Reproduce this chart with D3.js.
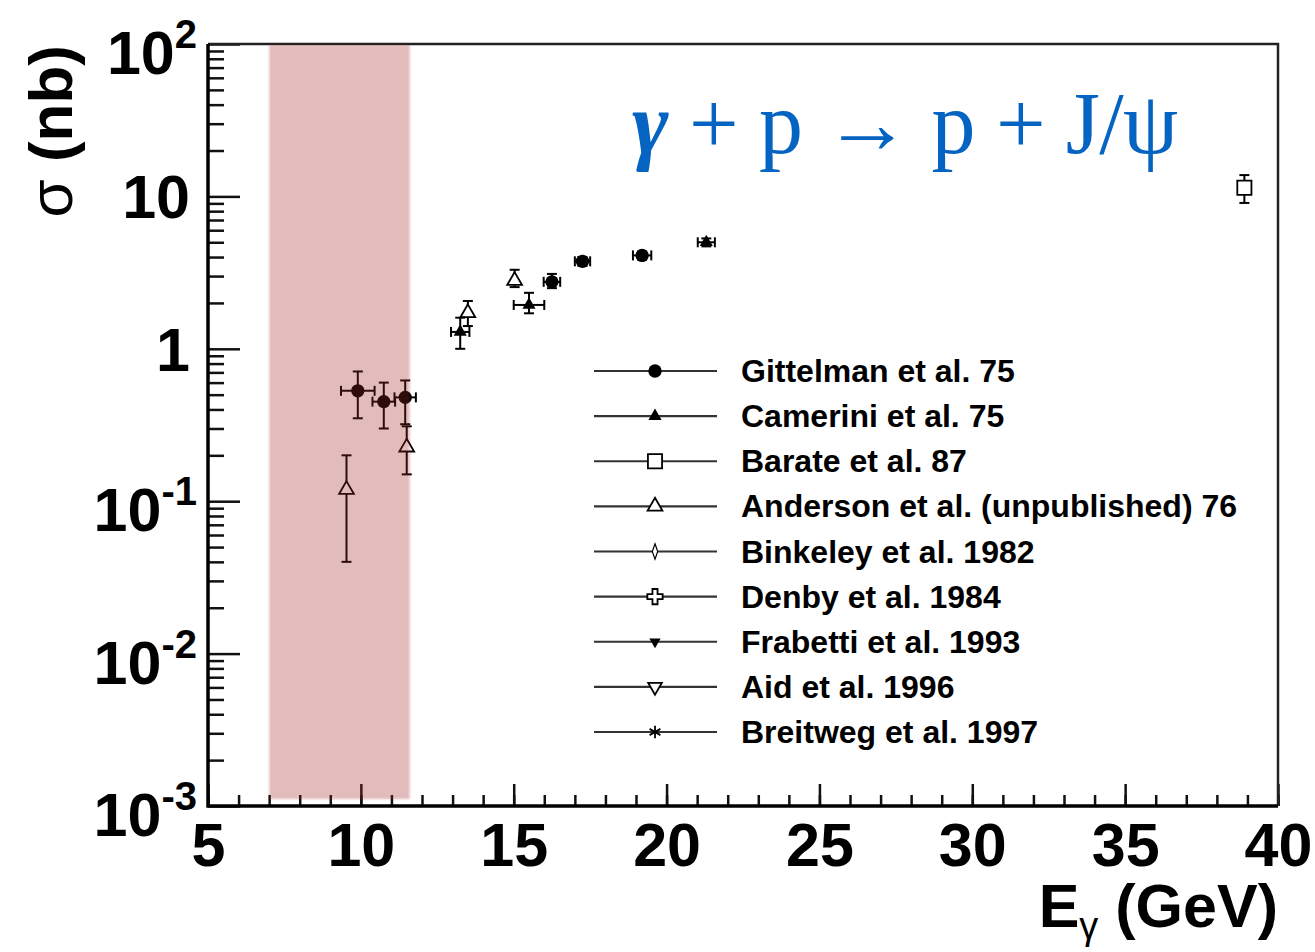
<!DOCTYPE html>
<html>
<head>
<meta charset="utf-8">
<script src="https://cdn.jsdelivr.net/npm/d3@7"></script>
<style>
  body { margin: 0; background: #fff; }
  text { font-family: "Liberation Sans", Arial, sans-serif; }
</style>
</head>
<body>
<div id="container"></div>
<script>
/* ---------------- DATA ---------------- */
const gittelmanE     = [9.9, 10.75, 11.45, 16.25, 17.25, 19.2];
const gittelmanSigma = [0.53, 0.45, 0.48, 2.75, 3.75, 4.1];
const gittelmanLow   = [0.35, 0.30, 0.32, 2.5, 3.5, 3.85];
const gittelmanHigh  = [0.71, 0.60, 0.62, 3.1, 4.0, 4.35];
const gittelmanEErr  = [0.55, 0.37, 0.35, 0.27, 0.25, 0.3];

const cameriniE     = [13.25, 15.5, 21.3];
const cameriniSigma = [1.29, 1.94, 5.0];
const cameriniLow   = [1.0, 1.71, 4.7];
const cameriniHigh  = [1.6, 2.33, 5.3];
const cameriniEErr  = [0.3, 0.5, 0.28];

const barateE     = [38.9];
const barateSigma = [11.4];
const barateLow   = [9.06];
const barateHigh  = [13.8];

const andersonE     = [9.53, 11.5, 13.5, 15.03];
const andersonSigma = [0.119, 0.226, 1.72, 2.8];
const andersonLow   = [0.04, 0.15, 1.41, 2.54];
const andersonHigh  = [0.2, 0.31, 2.06, 3.3];

const legendLabels = [
  "Gittelman et al. 75",
  "Camerini et al. 75",
  "Barate et al. 87",
  "Anderson et al. (unpublished) 76",
  "Binkeley et al. 1982",
  "Denby et al. 1984",
  "Frabetti et al. 1993",
  "Aid et al. 1996",
  "Breitweg et al. 1997"
];
const legendMarkers = ["circle", "triangle", "square", "otriangle", "diamond", "ocross", "itriangle", "oitriangle", "asterisk"];

const xMajorTicks = [5, 10, 15, 20, 25, 30, 35, 40];
const yDecades = [-3, -2, -1, 0, 1, 2];
const bandRange = [7, 11.6];

/* ---------------- SETUP ---------------- */
const W = 1315, H = 952;
const L = 208, R = 1278, T = 44, B = 806;

const svg = d3.select("#container").append("svg")
  .attr("width", W)
  .attr("height", H);

const x = d3.scaleLinear().domain([5, 40]).range([L, R]);
const y = d3.scaleLog().domain([1e-3, 1e2]).range([B, T]);

/* ---------------- MARKERS ---------------- */
function marker(g, type, cx, cy) {
  const sym = {
    circle:     [d3.symbolCircle, 140, "#000", "none", 0],
    triangle:   [d3.symbolTriangle, 75, "#000", "none", 0],
    square:     [d3.symbolSquare, 200, "#fff", "#000", 0],
    otriangle:  [d3.symbolTriangle, 95, "#fff", "#000", 0],
    diamond:    [d3.symbolDiamond, 70, "#fff", "#000", 0],
    ocross:     [d3.symbolCross, 130, "#fff", "#000", 0],
    itriangle:  [d3.symbolTriangle, 55, "#000", "none", 180],
    oitriangle: [d3.symbolTriangle, 80, "#fff", "#000", 180],
    asterisk:   [d3.symbolAsterisk, 110, "none", "#000", 0]
  }[type];
  const sx = type === "diamond" ? 0.6 : 1;
  g.append("path")
    .attr("d", d3.symbol(sym[0], sym[1])())
    .attr("transform", `translate(${cx},${cy}) rotate(${sym[4]}) scale(${sx},1)`)
    .attr("fill", sym[2])
    .attr("stroke", sym[3])
    .attr("stroke-width", 1.8);
}

function errorBars(g, e, s, lo, hi, ex) {
  const cap = 5;
  g.append("line").attr("x1", x(e)).attr("x2", x(e)).attr("y1", y(lo)).attr("y2", y(hi));
  g.append("line").attr("x1", x(e) - cap).attr("x2", x(e) + cap).attr("y1", y(lo)).attr("y2", y(lo));
  g.append("line").attr("x1", x(e) - cap).attr("x2", x(e) + cap).attr("y1", y(hi)).attr("y2", y(hi));
  if (ex) {
    g.append("line").attr("x1", x(e - ex)).attr("x2", x(e + ex)).attr("y1", y(s)).attr("y2", y(s));
    g.append("line").attr("x1", x(e - ex)).attr("x2", x(e - ex)).attr("y1", y(s) - cap).attr("y2", y(s) + cap);
    g.append("line").attr("x1", x(e + ex)).attr("x2", x(e + ex)).attr("y1", y(s) - cap).attr("y2", y(s) + cap);
  }
}

function series(E, S, LO, HI, EX, type) {
  const g = svg.append("g").attr("stroke", "#000").attr("stroke-width", 2);
  E.forEach((e, i) => {
    errorBars(g, e, S[i], LO[i], HI[i], EX ? EX[i] : 0);
    marker(g, type, x(e), y(S[i]));
  });
}

/* ---------------- POINTS ---------------- */
series(andersonE, andersonSigma, andersonLow, andersonHigh, null, "otriangle");
series(cameriniE, cameriniSigma, cameriniLow, cameriniHigh, cameriniEErr, "triangle");
series(gittelmanE, gittelmanSigma, gittelmanLow, gittelmanHigh, gittelmanEErr, "circle");
series(barateE, barateSigma, barateLow, barateHigh, null, "square");

/* ---------------- AXES ---------------- */
svg.append("g")
  .attr("transform", `translate(0,${B})`)
  .call(d3.axisBottom(x).tickValues(d3.range(5, 41)).tickSize(-11).tickFormat(""));
const xMajor = svg.append("g")
  .attr("transform", `translate(0,${B})`)
  .call(d3.axisBottom(x).tickValues(xMajorTicks).tickSize(-22).tickPadding(17).tickFormat(d3.format("d")));
xMajor.selectAll("text")
  .attr("font-size", 61).attr("font-weight", "bold").attr("fill", "#000")
  .style("font-family", "'Liberation Sans', Arial, sans-serif");

const yMinorVals = [];
yDecades.slice(0, -1).forEach(p => {
  for (let k = 2; k <= 9; k++) yMinorVals.push(k * Math.pow(10, p));
});
svg.append("g")
  .attr("transform", `translate(${L},0)`)
  .call(d3.axisLeft(y).tickValues(yMinorVals).tickSize(-16).tickFormat(""));
svg.append("g")
  .attr("transform", `translate(${L},0)`)
  .call(d3.axisLeft(y).tickValues(yDecades.map(p => Math.pow(10, p))).tickSize(-32).tickFormat(""));

svg.selectAll(".tick line").attr("stroke", "#111").attr("stroke-width", 2.5);
svg.selectAll(".domain").attr("stroke", "none");

// y tick labels with exponents
yDecades.forEach(p => {
  const ty = y(Math.pow(10, p));
  if (p === 0 || p === 1) {
    svg.append("text")
      .attr("x", 190).attr("y", ty + 22)
      .attr("text-anchor", "end")
      .attr("font-size", 61).attr("font-weight", "bold")
      .text(p === 0 ? "1" : "10");
  } else {
    const t = svg.append("text")
      .attr("x", 197).attr("y", ty + 30)
      .attr("text-anchor", "end")
      .attr("font-weight", "bold");
    t.append("tspan").attr("font-size", 61).text("10");
    t.append("tspan").attr("font-size", 40).attr("dy", -26).text(p);
  }
});

// frame
svg.append("path")
  .attr("d", `M${L},${T}H${R}V${B}`)
  .attr("fill", "none").attr("stroke", "#222").attr("stroke-width", 2.5);
svg.append("path")
  .attr("d", `M${L},${T}V${B}H${R}`)
  .attr("fill", "none").attr("stroke", "#000").attr("stroke-width", 3.5);

/* ---------------- BAND ---------------- */
const defs = svg.append("defs");
defs.append("filter").attr("id", "soft")
  .append("feGaussianBlur").attr("stdDeviation", 1.2);
svg.append("rect")
  .attr("x", x(bandRange[0]))
  .attr("y", T + 1)
  .attr("width", x(bandRange[1]) - x(bandRange[0]))
  .attr("height", 799 - T - 1)
  .attr("fill", "rgb(160,40,40)")
  .attr("opacity", 0.3)
  .attr("filter", "url(#soft)");

/* ---------------- LEGEND ---------------- */
const ly = d3.scalePoint().domain(legendLabels).range([371, 732]);
const lg = svg.append("g");
legendLabels.forEach((lab, i) => {
  const yy = ly(lab);
  lg.append("line")
    .attr("x1", 594).attr("x2", 717).attr("y1", yy).attr("y2", yy)
    .attr("stroke", "#333").attr("stroke-width", 2.2);
  marker(lg, legendMarkers[i], 655, yy);
  lg.append("text")
    .attr("x", 741).attr("y", yy + 11)
    .attr("font-size", 32).attr("font-weight", "bold")
    .text(lab);
});

/* ---------------- TITLES ---------------- */
const title = svg.append("text")
  .attr("x", 632).attr("y", 153)
  .attr("fill", "#0563c1")
  .attr("font-size", 88)
  .attr("textLength", 546)
  .attr("lengthAdjust", "spacing")
  .style("font-family", "'Liberation Serif', 'DejaVu Serif', serif");
title.append("tspan").attr("font-weight", "bold").attr("font-style", "italic").text("γ");
title.append("tspan").text(" + p → p + J/ψ");

const xl = svg.append("text")
  .attr("x", 1278).attr("y", 927)
  .attr("text-anchor", "end")
  .attr("font-weight", "bold");
xl.append("tspan").attr("font-size", 61).text("E");
xl.append("tspan").attr("font-size", 38).attr("font-weight", "normal").attr("dy", 12).text("γ");
xl.append("tspan").attr("font-size", 61).attr("dy", -12).text(" (GeV)");

const yl = svg.append("text")
  .attr("transform", "translate(72,45) rotate(-90)")
  .attr("text-anchor", "end");
yl.append("tspan").attr("font-size", 62).text("σ ");
yl.append("tspan").attr("font-size", 62).attr("font-weight", "bold").text("(nb)");
</script>
</body>
</html>
